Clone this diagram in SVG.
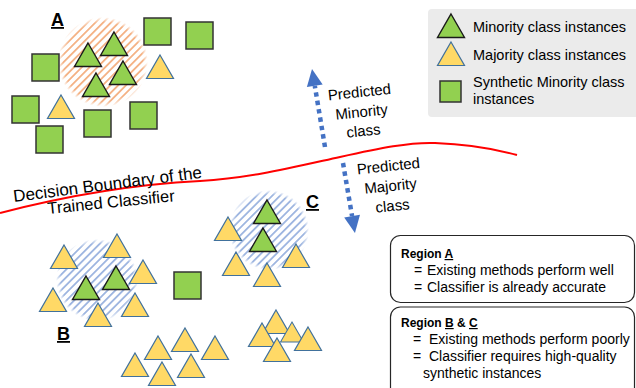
<svg xmlns="http://www.w3.org/2000/svg" width="636" height="388" viewBox="0 0 636 388">
<style>
  .min { fill:#92d050; stroke:#1a1a1a; stroke-width:1.4; }
  .maj { fill:#ffd966; stroke:#41719c; stroke-width:1.2; }
  .syn { fill:#92d050; stroke:#333333; stroke-width:1.5; }
  text { font-family:"Liberation Sans", Arial, sans-serif; fill:#000000; }
  .lbl { font-size:18px; font-weight:bold; text-decoration:underline; }
  .leg { font-size:14.5px; }
  .pred { font-size:15px; text-anchor:middle; }
  .db { font-size:17px; }
  .box { fill:#ffffff; stroke:#262626; stroke-width:1.2; }
  .bh { font-size:12px; font-weight:bold; }
  .bt { font-size:14px; }
  .u { text-decoration:underline; }
  .arrow { fill:none; stroke:#4472c4; stroke-width:4.5; stroke-dasharray:4.5 4; }
</style>
<defs>
  <path id="tri" d="M0,0 L13.5,23.5 L-13.5,23.5 Z"/>
  <rect id="sq" width="27" height="27"/>
  <pattern id="hatchO" width="5.5" height="5.5" patternUnits="userSpaceOnUse" patternTransform="rotate(45)">
    <rect width="1.8" height="5.5" fill="#f4b183"/>
  </pattern>
  <pattern id="hatchB" width="5.5" height="5.5" patternUnits="userSpaceOnUse" patternTransform="rotate(45)">
    <rect width="1.8" height="5.5" fill="#9db5e0"/>
  </pattern>
  <radialGradient id="fade" cx="0.5" cy="0.5" r="0.5">
    <stop offset="0.88" stop-color="#ffffff"/>
    <stop offset="1" stop-color="#ffffff" stop-opacity="0"/>
  </radialGradient>
  <mask id="soft" maskContentUnits="objectBoundingBox">
    <rect width="1" height="1" fill="url(#fade)"/>
  </mask>
  <marker id="head" markerUnits="userSpaceOnUse" markerWidth="20" markerHeight="20" viewBox="0 -10 20 20" refX="0" refY="0" orient="auto" overflow="visible">
    <path d="M0,-8 L17,0 L0,8 Z" fill="#4472c4"/>
  </marker>
</defs>

<!-- Region A -->
<g id="region-A">
  <circle cx="103" cy="62" r="45" fill="url(#hatchO)" mask="url(#soft)"/>
  <use href="#sq" x="144" y="18" class="syn"/>
  <use href="#sq" x="186" y="22" class="syn"/>
  <use href="#sq" x="32" y="54" class="syn"/>
  <use href="#sq" x="12" y="96" class="syn"/>
  <use href="#sq" x="84" y="110" class="syn"/>
  <use href="#sq" x="130" y="102" class="syn"/>
  <use href="#sq" x="36" y="126" class="syn"/>
  <use href="#tri" x="88" y="43" class="min"/>
  <use href="#tri" x="114" y="32" class="min"/>
  <use href="#tri" x="123" y="61" class="min"/>
  <use href="#tri" x="96" y="73" class="min"/>
  <use href="#tri" x="160" y="55" class="maj"/>
  <use href="#tri" x="61" y="95" class="maj"/>
  <text class="lbl" x="51" y="26">A</text>
</g>

<!-- Region B -->
<g id="region-B">
  <circle cx="97" cy="280" r="41" fill="url(#hatchB)" mask="url(#soft)"/>
  <use href="#tri" x="64" y="245" class="maj"/>
  <use href="#tri" x="117" y="234" class="maj"/>
  <use href="#tri" x="143" y="260" class="maj"/>
  <use href="#tri" x="53" y="288" class="maj"/>
  <use href="#tri" x="135" y="293" class="maj"/>
  <use href="#tri" x="98" y="303" class="maj"/>
  <use href="#tri" x="86" y="276" class="min"/>
  <use href="#tri" x="116" y="266" class="min"/>
  <text class="lbl" x="57" y="340">B</text>
</g>

<g id="synthetic-single">
  <use href="#sq" x="174" y="272" class="syn"/>
</g>

<!-- Region C -->
<g id="region-C">
  <circle cx="269" cy="230" r="40" fill="url(#hatchB)" mask="url(#soft)"/>
  <use href="#tri" x="228" y="217" class="maj"/>
  <use href="#tri" x="236" y="252" class="maj"/>
  <use href="#tri" x="267" y="263" class="maj"/>
  <use href="#tri" x="296" y="244" class="maj"/>
  <use href="#tri" x="267" y="200" class="min"/>
  <use href="#tri" x="263" y="228" class="min"/>
  <text class="lbl" x="306" y="208">C</text>
</g>

<!-- Bottom majority clusters -->
<g id="majority-cluster-1">
  <use href="#tri" x="158" y="336" class="maj"/>
  <use href="#tri" x="185" y="328" class="maj"/>
  <use href="#tri" x="215" y="336" class="maj"/>
  <use href="#tri" x="135" y="353" class="maj"/>
  <use href="#tri" x="162" y="362" class="maj"/>
  <use href="#tri" x="191" y="354" class="maj"/>
</g>
<g id="majority-cluster-2">
  <use href="#tri" x="276" y="310" class="maj"/>
  <use href="#tri" x="262" y="323" class="maj"/>
  <use href="#tri" x="292" y="322" class="maj" transform="translate(292 322) scale(0.85) translate(-292 -322)"/>
  <use href="#tri" x="308" y="327" class="maj"/>
  <use href="#tri" x="277" y="338" class="maj"/>
</g>

<!-- Decision boundary -->
<g id="decision-boundary">
  <path d="M0,213 C50,200 120,185 200,181 C250,178 290,168 340,157 C380,148 410,142 435,143 C465,144 495,149 517,155" fill="none" stroke="#ff0000" stroke-width="2"/>
  <text class="db" transform="translate(14 202) rotate(-7.3)">Decision Boundary of the</text>
  <text class="db" transform="translate(48 214) rotate(-5.8)" style="font-size:16.5px">Trained Classifier</text>
</g>

<!-- Connectors -->
<g id="connectors">
  <path class="arrow" d="M325,147 L314.8,85.8" marker-end="url(#head)"/>
  <path class="arrow" d="M343,163 L352.1,216.2" marker-end="url(#head)"/>
</g>

<g id="label-predicted-minority" transform="translate(362 117) rotate(-6)">
  <text class="pred" x="0" y="-20">Predicted</text>
  <text class="pred" x="0" y="0">Minority</text>
  <text class="pred" x="0" y="19">class</text>
</g>
<g id="label-predicted-majority" transform="translate(391 191) rotate(-6)">
  <text class="pred" x="0" y="-20">Predicted</text>
  <text class="pred" x="0" y="0">Majority</text>
  <text class="pred" x="0" y="20">class</text>
</g>

<!-- Legend -->
<g id="legend">
  <rect x="428" y="9" width="220" height="108" rx="4" fill="#ebebeb"/>
  <use href="#tri" x="451" y="14" class="min"/>
  <text class="leg" x="473" y="32">Minority class instances</text>
  <use href="#tri" x="451" y="42" class="maj"/>
  <text class="leg" x="473" y="60">Majority class instances</text>
  <rect x="440" y="81" width="21" height="21" class="syn"/>
  <text class="leg" x="473" y="87">Synthetic Minority class</text>
  <text class="leg" x="473" y="104">instances</text>
</g>

<!-- Region notes -->
<g id="note-region-A">
  <rect class="box" x="390.5" y="235.5" width="244" height="67" rx="10"/>
  <text class="bh" x="401" y="258">Region <tspan class="u">A</tspan></text>
  <text class="bt" x="414" y="275">=</text>
  <text class="bt" x="427" y="275">Existing methods perform well</text>
  <text class="bt" x="414" y="292">=</text>
  <text class="bt" x="427" y="292">Classifier is already accurate</text>
</g>
<g id="note-region-BC">
  <rect class="box" x="390.5" y="307" width="244" height="100" rx="10"/>
  <text class="bh" x="401" y="327">Region <tspan class="u">B</tspan> &amp; <tspan class="u">C</tspan></text>
  <text class="bt" x="413" y="344">=</text>
  <text class="bt" x="429" y="344">Existing methods perform poorly</text>
  <text class="bt" x="413" y="361">=</text>
  <text class="bt" x="429" y="361">Classifier requires high-quality</text>
  <text class="bt" x="423" y="378">synthetic instances</text>
</g>
</svg>
